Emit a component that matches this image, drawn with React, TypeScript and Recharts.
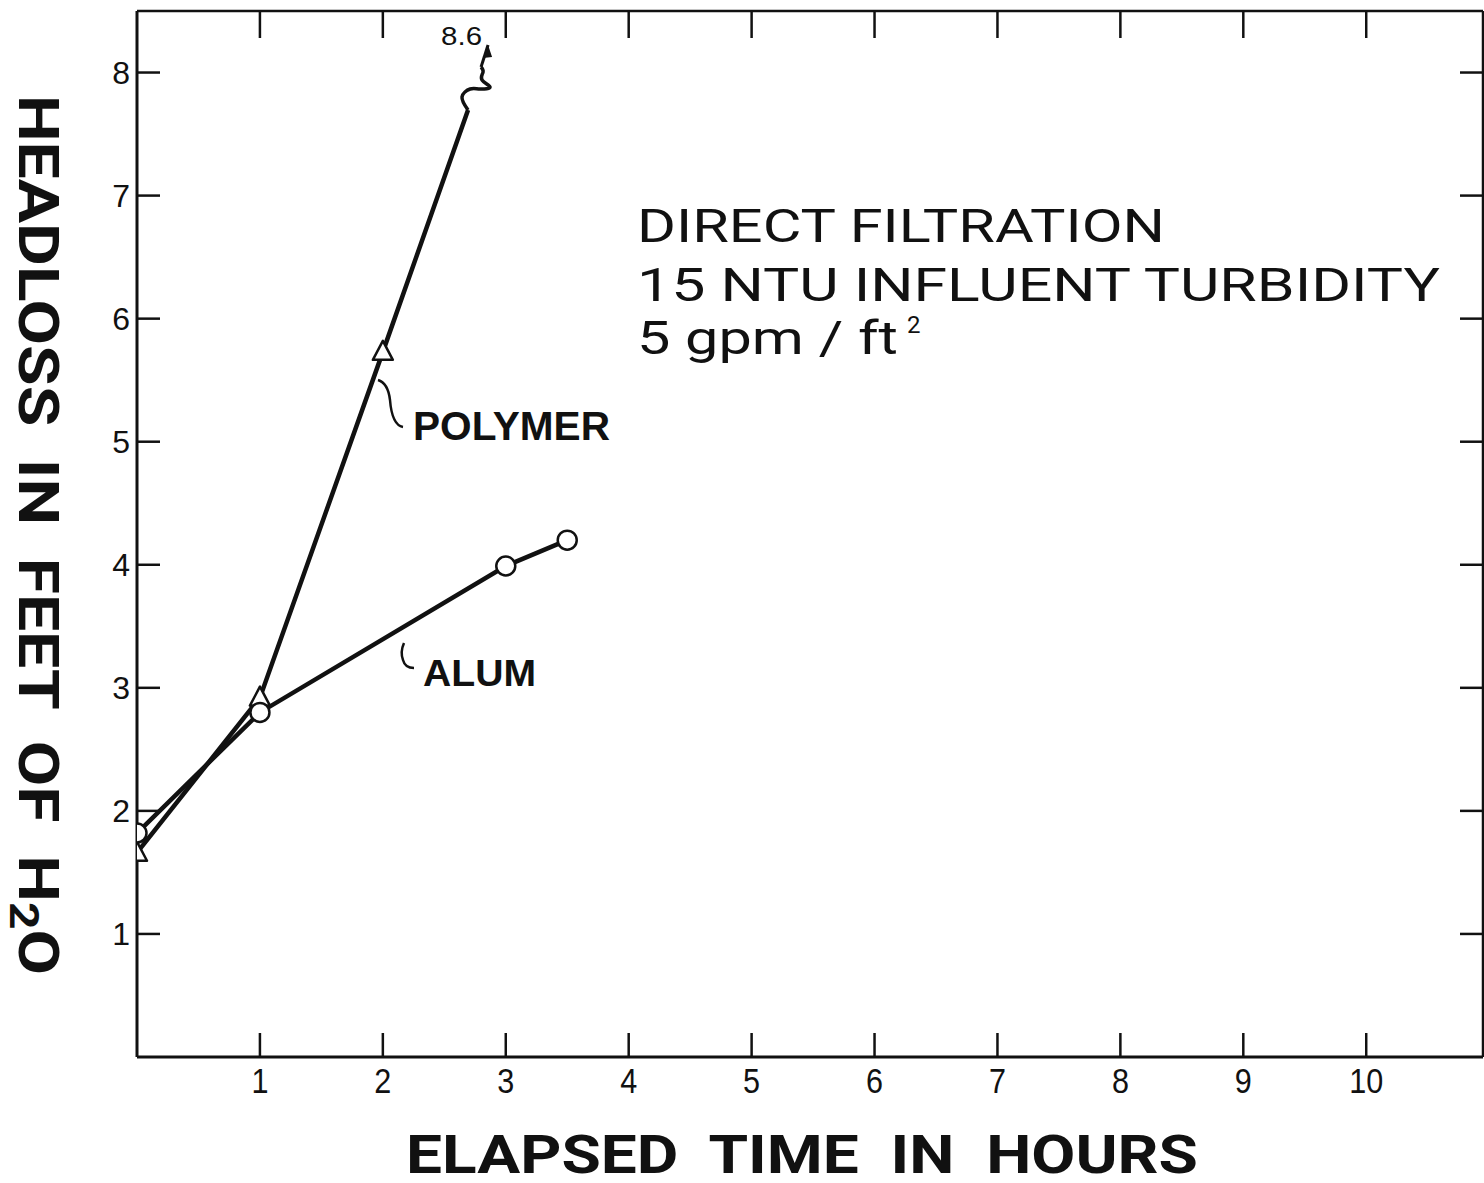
import React from 'react';
import { LineChart, Line, XAxis, YAxis } from 'recharts';

// ---- data ----
const polymerTime = [0, 1, 2, 2.693];
const polymerHeadloss = [1.66, 2.92, 5.73, 7.695];
const polymerMarked = [true, true, true, false];
const alumTime = [0, 1, 3, 3.5];
const alumHeadloss = [1.82, 2.8, 3.99, 4.2];
// axis break squiggle & arrow for the off-scale polymer value (8.6)
const breakTime = [2.693, 2.644, 2.71, 2.791, 2.872, 2.807, 2.815, 2.799];
const breakHeadloss = [7.695, 7.801, 7.866, 7.866, 7.882, 7.939, 8.004, 8.045];
const arrowTime = [2.799, 2.856];
const arrowHeadloss = [8.045, 8.224];
const offScaleLabel = '8.6';
const xTicks = [1, 2, 3, 4, 5, 6, 7, 8, 9, 10];
const yTicks = [1, 2, 3, 4, 5, 6, 7, 8];

const zip = (xs: number[], ys: number[]) => xs.map((x, i) => ({ x, y: ys[i] }));
const polymerData = zip(polymerTime, polymerHeadloss);
const alumData = zip(alumTime, alumHeadloss);
const breakData = zip(breakTime, breakHeadloss);
const arrowData = zip(arrowTime, arrowHeadloss);

const INK = '#111';
const SANS = "'Liberation Sans', 'DejaVu Sans', sans-serif";
const GOTHIC = "Roboto, 'Liberation Sans', sans-serif";

const LeftTick = (p: any) => (
  <g>
    <line x1={p.x} y1={p.y} x2={p.x + 23} y2={p.y} stroke={INK} strokeWidth={2.5} />
    <text x={p.x - 7} y={p.y} dy="0.36em" textAnchor="end" fontSize={32} fontFamily={SANS} fill={INK}>
      {p.payload.value}
    </text>
  </g>
);
const RightTick = (p: any) => (
  <line x1={p.x} y1={p.y} x2={p.x - 23} y2={p.y} stroke={INK} strokeWidth={2.5} />
);
const BottomTick = (p: any) => (
  <g>
    <line x1={p.x} y1={p.y} x2={p.x} y2={p.y - 24} stroke={INK} strokeWidth={2.5} />
    <text
      transform={`translate(${p.x},${p.y + 36}) scale(0.85,1)`}
      textAnchor="middle"
      fontSize={36}
      fontFamily={SANS}
      fill={INK}
    >
      {p.payload.value}
    </text>
  </g>
);
const TopTick = (p: any) => (
  <line x1={p.x} y1={p.y} x2={p.x} y2={p.y + 27} stroke={INK} strokeWidth={2.5} />
);

const TriangleDot = (p: any) => {
  const { cx, cy, index } = p;
  if (cx == null || cy == null || !polymerMarked[index]) return <g key={`t${index}`} />;
  return (
    <polygon
      key={`t${index}`}
      points={`${cx},${cy - 11} ${cx - 10},${cy + 8} ${cx + 10},${cy + 8}`}
      fill="#fff"
      stroke={INK}
      strokeWidth={2.5}
      strokeLinejoin="round"
    />
  );
};

const ArrowDot = (p: any) => {
  const { cx, cy, index } = p;
  if (index !== arrowData.length - 1 || cx == null) return <g key={`a${index}`} />;
  return (
    <g key={`a${index}`}>
      <polygon points={`${cx},${cy} ${cx - 5},${cy + 13} ${cx + 4},${cy + 12}`} fill={INK} />
      <text x={cx - 47} y={cy} fontSize={26} fontFamily={SANS} fill={INK} textLength={41} lengthAdjust="spacingAndGlyphs">
        {offScaleLabel}
      </text>
    </g>
  );
};

const pre = { whiteSpace: 'pre' } as React.CSSProperties;

export default function App() {
  return (
    <div
      style={{
        position: 'fixed',
        left: 0,
        top: 0,
        width: 1484,
        height: 1183,
        overflow: 'hidden',
        background: '#fff',
      }}
    >
      <LineChart width={1484} height={1183} margin={{ top: 0, right: 0, bottom: 0, left: 0 }}>
        <XAxis
          xAxisId="bottom"
          dataKey="x"
          type="number"
          domain={[0, 10.95]}
          ticks={xTicks}
          interval={0}
          height={126}
          tickSize={0}
          tickMargin={0}
          tickLine={false}
          axisLine={{ stroke: INK, strokeWidth: 3 }}
          tick={<BottomTick />}
          allowDataOverflow
        />
        <XAxis
          xAxisId="top"
          orientation="top"
          dataKey="x"
          type="number"
          domain={[0, 10.95]}
          ticks={xTicks}
          interval={0}
          height={11}
          tickSize={0}
          tickMargin={0}
          tickLine={false}
          axisLine={{ stroke: INK, strokeWidth: 2.5 }}
          tick={<TopTick />}
          allowDataOverflow
        />
        <YAxis
          yAxisId="left"
          type="number"
          domain={[0, 8.5]}
          ticks={yTicks}
          interval={0}
          width={137}
          tickSize={0}
          tickMargin={0}
          tickLine={false}
          axisLine={{ stroke: INK, strokeWidth: 3 }}
          tick={<LeftTick />}
          allowDataOverflow
        />
        <YAxis
          yAxisId="right"
          orientation="right"
          type="number"
          domain={[0, 8.5]}
          ticks={yTicks}
          interval={0}
          width={1}
          tickSize={0}
          tickMargin={0}
          tickLine={false}
          axisLine={{ stroke: INK, strokeWidth: 2.5 }}
          tick={<RightTick />}
          allowDataOverflow
        />
        <Line
          xAxisId="bottom"
          yAxisId="left"
          data={breakData}
          dataKey="y"
          type="natural"
          stroke={INK}
          strokeWidth={3.5}
          dot={false}
          isAnimationActive={false}
        />
        <Line
          xAxisId="bottom"
          yAxisId="left"
          data={arrowData}
          dataKey="y"
          type="linear"
          stroke={INK}
          strokeWidth={3}
          dot={ArrowDot}
          isAnimationActive={false}
        />
        <Line
          xAxisId="bottom"
          yAxisId="left"
          data={polymerData}
          dataKey="y"
          type="linear"
          stroke={INK}
          strokeWidth={4.5}
          dot={TriangleDot}
          isAnimationActive={false}
        />
        <Line
          xAxisId="bottom"
          yAxisId="left"
          data={alumData}
          dataKey="y"
          type="linear"
          stroke={INK}
          strokeWidth={4.5}
          dot={{ r: 9.5, fill: '#fff', stroke: INK, strokeWidth: 2.5 }}
          isAnimationActive={false}
        />
      </LineChart>
      <svg
        width={1484}
        height={1183}
        style={{ position: 'absolute', left: 0, top: 0, pointerEvents: 'none' }}
      >
        <text
          transform="translate(19,535) rotate(90)"
          textAnchor="middle"
          fontSize={55}
          fontWeight="bold"
          fontFamily={GOTHIC}
          fill={INK}
          textLength={880}
          lengthAdjust="spacingAndGlyphs"
          style={pre}
        >
          HEADLOSS  IN  FEET  OF  H<tspan dy={9} fontSize={40}>2</tspan><tspan dy={-9}>O</tspan>
        </text>
        <text
          x={802}
          y={1173}
          textAnchor="middle"
          fontSize={53}
          fontWeight="bold"
          fontFamily={GOTHIC}
          fill={INK}
          textLength={792}
          lengthAdjust="spacingAndGlyphs"
          style={pre}
        >
          ELAPSED  TIME  IN  HOURS
        </text>
        <g fontFamily={GOTHIC} fill={INK} fontSize={46} style={pre}>
          <text x={637} y={242} textLength={528} lengthAdjust="spacingAndGlyphs">DIRECT   FILTRATION</text>
          <text x={637} y={301} textLength={803} lengthAdjust="spacingAndGlyphs">15   NTU   INFLUENT   TURBIDITY</text>
          <text x={637} y={354} textLength={261} lengthAdjust="spacingAndGlyphs">5   gpm  /  ft</text>
          <text x={907} y={333} fontSize={24}>2</text>
        </g>
        <text x={413} y={440} fontSize={40} fontWeight="bold" fontFamily={SANS} fill={INK} textLength={197} lengthAdjust="spacingAndGlyphs">
          POLYMER
        </text>
        <text x={423} y={686} fontSize={37} fontWeight="bold" fontFamily={SANS} fill={INK} textLength={113} lengthAdjust="spacingAndGlyphs">
          ALUM
        </text>
        <path d="M378,380 Q388,383 390,400 Q392,425 403,427" fill="none" stroke={INK} strokeWidth={2.5} />
        <path d="M404,643 Q400,652 403,660 Q405,668 414,668" fill="none" stroke={INK} strokeWidth={2.5} />
      </svg>
    </div>
  );
}
